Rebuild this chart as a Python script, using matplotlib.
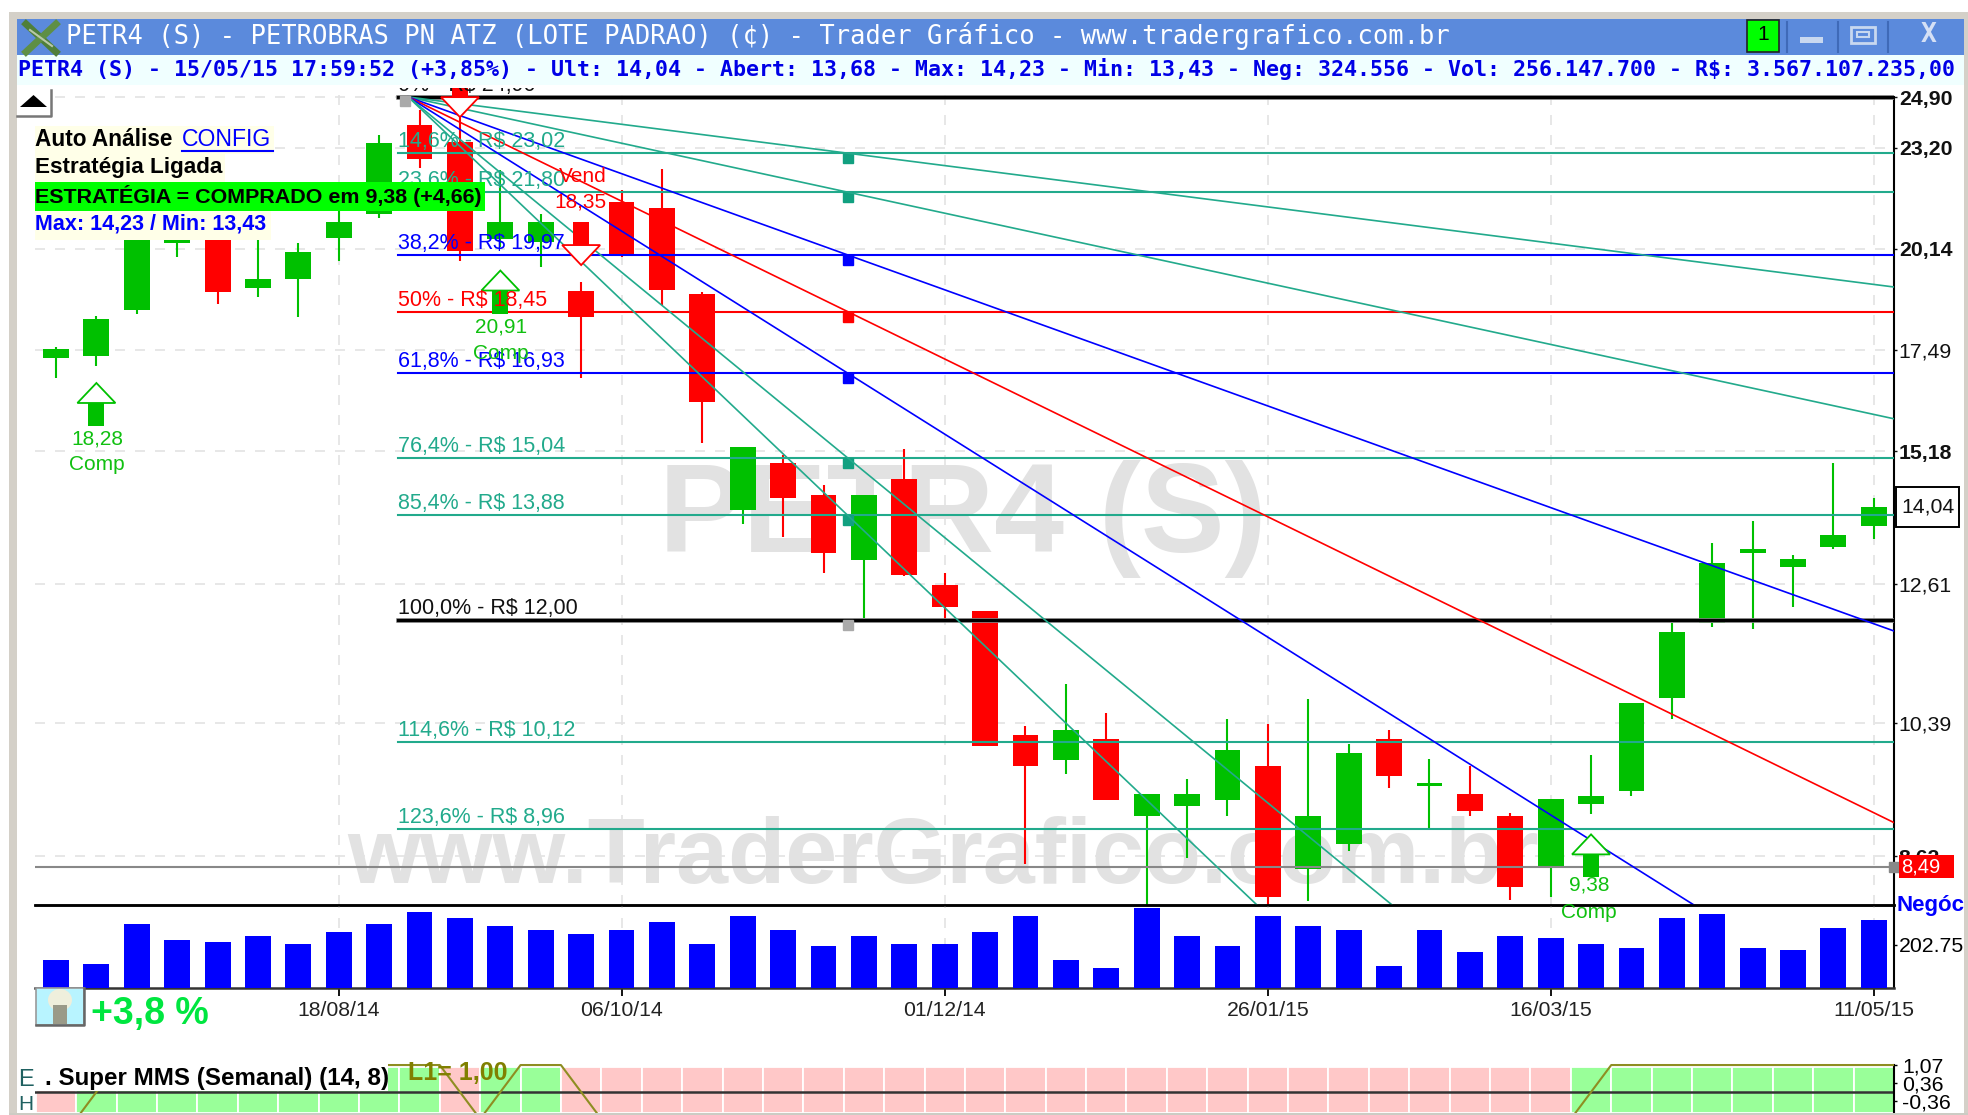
import numpy as np
import matplotlib
matplotlib.use("Agg")
import matplotlib.pyplot as plt
from matplotlib.patches import Rectangle, Polygon, Ellipse
from matplotlib.lines import Line2D
from matplotlib.ticker import NullLocator
from matplotlib.transforms import IdentityTransform, offset_copy

plt.rcParams["font.family"] = ["Liberation Sans", "DejaVu Sans"]

W, H = 1968, 1115

# weekly candles
opens = [17.30, 17.35, 18.48, 20.32, 20.38, 19.08, 19.30, 20.46, 21.15, 23.95, 23.39, 20.42, 20.33, 19.00, 21.50, 21.32,
         18.92, 13.99, 14.93, 14.28, 13.04, 14.60, 12.59, 12.14, 10.21, 9.86, 10.15, 9.12, 9.25, 9.33, 9.78,
         8.47, 8.77, 10.15, 9.51, 9.41, 9.12, 8.50, 9.27, 9.45, 10.76, 11.94, 13.17, 12.91, 13.28, 13.68]
highs = [17.55, 18.35, 20.44, 20.50, 20.40, 20.40, 20.30, 21.35, 23.61, 24.46, 24.80, 22.50, 21.15, 19.22, 21.87, 22.52,
         18.95, 15.27, 15.11, 14.48, 14.28, 15.23, 12.80, 12.14, 10.35, 10.97, 10.53, 9.40, 9.60, 10.44, 10.37,
         10.74, 10.09, 10.29, 9.88, 9.78, 9.16, 9.34, 9.93, 10.68, 11.94, 13.35, 13.77, 13.13, 14.94, 14.23]
lows = [16.82, 17.11, 18.40, 19.90, 18.66, 18.82, 18.30, 19.80, 21.02, 22.55, 19.80, 20.20, 19.63, 16.82, 19.90, 18.61,
        15.36, 13.72, 13.46, 12.80, 12.02, 12.76, 12.00, 10.06, 8.53, 9.67, 9.33, 8.06, 8.60, 9.12, 8.05,
        8.10, 8.69, 9.48, 8.96, 9.12, 8.11, 8.14, 9.15, 9.38, 10.44, 11.87, 11.84, 12.21, 13.24, 13.43]
closes = [17.50, 18.27, 20.38, 20.38, 18.97, 19.30, 20.04, 20.90, 23.35, 22.83, 20.07, 20.90, 20.90, 18.30, 19.93, 19.02,
          16.27, 15.27, 14.22, 13.17, 14.28, 12.78, 12.21, 10.06, 9.78, 10.29, 9.33, 9.40, 9.41, 10.00, 8.14,
          9.12, 9.96, 9.64, 9.55, 9.19, 8.26, 9.34, 9.38, 10.68, 11.80, 12.98, 13.24, 13.06, 13.50, 14.04]
volumes = [132, 113, 302, 226, 217, 245, 207, 264, 302, 358, 330, 292, 273, 255, 273, 311,
           207, 339, 273, 198, 245, 207, 207, 264, 339, 132, 94, 377, 245, 198, 339,
           292, 273, 104, 273, 170, 245, 236, 207, 189, 330, 349, 189, 179, 283, 321]
# 1 = green week, 0 = red week in the Super MMS strip
mms_state = [0] + [1] * 9 + [0] + [1] * 2 + [0] * 25 + [1] * 8

date_idx = [7, 14, 22, 30, 37, 45]
date_labels = ["18/08/14", "06/10/14", "01/12/14", "26/01/15", "16/03/15", "11/05/15"]
price_ticks = [24.90, 23.20, 20.14, 17.49, 15.18, 12.61, 10.39, 8.62]
price_labels = ["24,90", "23,20", "20,14", "17,49", "15,18", "12,61", "10,39", "8,62"]
bold_prices = ["24,90", "23,20", "20,14", "15,18", "8,62"]

fib_levels = [24.90, 23.02, 21.80, 19.97, 18.45, 16.93, 15.04, 13.88, 12.00, 10.12, 8.96]
fib_labels = ["0% - R$ 24,90", "14,6% - R$ 23,02", "23,6% - R$ 21,80", "38,2% - R$ 19,97", "50% - R$ 18,45",
              "61,8% - R$ 16,93", "76,4% - R$ 15,04", "85,4% - R$ 13,88", "100,0% - R$ 12,00",
              "114,6% - R$ 10,12", "123,6% - R$ 8,96"]
TEAL = "#22AA8C"
fib_colors = ["black", TEAL, TEAL, "#0000FF", "#FF0000", "#0000FF", TEAL, TEAL, "black", TEAL, TEAL]
fan_levels = [23.02, 21.80, 19.97, 18.45, 16.93, 15.04, 13.88]
fan_colors = [TEAL, TEAL, "#0000FF", "#FF0000", "#0000FF", TEAL, TEAL]
marker_levels = fan_levels + [12.00]
marker_colors = ["#11A080", "#11A080", "#0000FF", "#FF0000", "#0000FF", "#11A080", "#11A080", "#AAAAAA"]
fan_start_idx, fan_start_price, fan_mid_idx = 8.72, 24.90, 19.6
last_price = 8.49

GREEN = "#00C000"
RED = "#FF0000"
GRID = "#E3E3E3"

fig = plt.figure(figsize=(W / 100, H / 100), dpi=100, facecolor="white")


def add_panel(left, top, right, bottom):
    ax = fig.add_axes([left / W, 1 - bottom / H, (right - left) / W, (bottom - top) / H])
    ax.set_facecolor("none")
    ax.set_xlim(-0.52, 45.5)
    return ax


def box(x0, y0, x1, y1, **kw):
    kw.setdefault("linewidth", 0)
    r = Rectangle((x0 / W, 1 - y1 / H), (x1 - x0) / W, (y1 - y0) / H, transform=fig.transFigure, **kw)
    fig.add_artist(r)
    return r


def label(x, y, s, **kw):
    kw.setdefault("va", "center")
    return fig.text(x / W, 1 - y / H, s, **kw)


def fig_line(xs, ys, **kw):
    fig.add_artist(Line2D([x / W for x in xs], [1 - y / H for y in ys], transform=fig.transFigure, **kw))


# price panel
ax = add_panel(35, 88, 1894, 905)
ax.set_yscale("log")
ax.set_ylim(8.055, 25.215)
ax.yaxis.set_minor_locator(NullLocator())
ax.yaxis.tick_right()
ax.set_yticks(price_ticks)
ax.set_yticklabels(price_labels, fontsize=15.3)
ax.yaxis.set_minor_formatter(plt.NullFormatter())
ax.set_xticks(date_idx)
ax.tick_params(axis="x", length=0, labelbottom=False)
ax.tick_params(axis="y", length=2, width=1, pad=1.5, colors="#111111")
for t in ax.get_yticklabels():
    if t.get_text() in bold_prices:
        t.set_fontweight("bold")
ax.grid(True, color=GRID, linewidth=1.2, linestyle=(0, (6, 6)), zorder=0)
ax.set_axisbelow(True)
for s in ["top", "left"]:
    ax.spines[s].set_visible(False)
ax.spines["right"].set_bounds(8.055, 24.90)
ax.spines["right"].set_linewidth(1.5)
ax.spines["bottom"].set_linewidth(1.8)

ax.text(963 / W, 1 - 552 / H, "PETR4 (S)", transform=fig.transFigure, fontsize=90.5, fontweight="bold",
        color="#E2E2E2", ha="center", va="baseline", zorder=0.5)
ax.text(943 / W, 1 - 883 / H, "www.TraderGrafico.com.br", transform=fig.transFigure, fontsize=67.3,
        fontweight="bold", color="#E2E2E2", ha="center", va="baseline", zorder=0.5)

idx = np.arange(len(opens))
o, h, l, c = map(np.array, (opens, highs, lows, closes))
up = c >= o
colors = np.where(up, GREEN, RED)
ax.vlines(idx, l, h, colors=colors, linewidth=1.5, zorder=2)
ax.bar(idx, np.abs(c - o), bottom=np.minimum(o, c), width=0.64, color=colors, zorder=2.5, linewidth=0)

# fibonacci retracement levels and fan
xmax = ax.get_xlim()[1]
for level, col, txt in zip(fib_levels, fib_colors, fib_labels):
    if col == "black":
        ax.plot([8.47, xmax], [level, level], color="#999999", linewidth=3.4, zorder=3)
        ax.plot([8.47, xmax], [level, level], color="black", linewidth=2.4, zorder=3.1)
    else:
        ax.plot([8.47, xmax], [level, level], color=col, linewidth=1.5, zorder=3)
    ax.annotate(txt, xy=(8.47, level), xytext=(0, 4.3), textcoords="offset points", fontsize=15.5,
                color="#111111" if col == "black" else col, va="baseline", ha="left", zorder=6,
                annotation_clip=False, clip_on=True)

for level, col in zip(fan_levels, fan_colors):
    ratio = (xmax - fan_start_idx) / (fan_mid_idx - fan_start_idx)
    end = fan_start_price * (level / fan_start_price) ** ratio
    ax.plot([fan_start_idx, xmax], [fan_start_price, end], color=col, linewidth=1.2, zorder=4)

below = offset_copy(ax.transData, fig=fig, y=-5, units="dots")
for level, col in zip(marker_levels, marker_colors):
    ax.plot([fan_mid_idx], [level], marker="s", markersize=7.5, color=col, linewidth=0, transform=below,
            zorder=3.5, clip_on=True)
ax.plot([fan_start_idx - 0.08], [24.75], marker="s", markersize=7, color="#AAAAAA", zorder=5)

ax.plot(ax.get_xlim(), [last_price, last_price], color="#888888", linewidth=1.5, zorder=3)
ax.plot([xmax], [last_price], marker="s", markersize=7, color="#888888", clip_on=False, zorder=5)


def signal_arrow(i, price, color, direction):
    # direction 1 = buy arrow under the price, -1 = sell arrow above it
    xd, yd = ax.transData.transform((i, price))
    s = direction
    tri = [(xd, yd), (xd - 19, yd - s * 20), (xd + 19, yd - s * 20)]
    ax.add_patch(Polygon(tri, closed=True, facecolor="white", edgecolor=color, linewidth=1.3,
                         transform=IdentityTransform(), zorder=5))
    y0 = yd - s * 20
    ax.add_patch(Polygon([(xd - 8, y0), (xd + 8, y0), (xd + 8, y0 - s * 23), (xd - 8, y0 - s * 23)], closed=True,
                         facecolor=color, linewidth=0, transform=IdentityTransform(), zorder=5))


signal_arrow(1, 16.70, GREEN, 1)
signal_arrow(11, 19.54, GREEN, 1)
signal_arrow(38, 8.89, GREEN, 1)
signal_arrow(10, 24.21, RED, -1)
signal_arrow(13, 19.69, RED, -1)

for x, y, s, col in [(97, 439, "18,28", "#10C010"), (97, 464, "Comp", "#10C010"),
                     (501, 327, "20,91", "#10C010"), (501, 353, "Comp", "#10C010"),
                     (1589, 885, "9,38", "#10C010"), (1589, 912, "Comp", "#10C010"),
                     (583, 177, "Vend", RED), (580, 202, "18,35", RED)]:
    label(x, y, s, color=col, fontsize=15, ha="center")

# volume panel
vol = add_panel(35, 905, 1894, 988)
vol.bar(idx, volumes, width=0.64, color="#0000FF", linewidth=0, zorder=3)
vol.set_ylim(0, 391)
vol.yaxis.tick_right()
vol.set_yticks([202.75])
vol.set_yticklabels(["202.75"], fontsize=15.3)
vol.set_xticks(date_idx)
vol.set_xticklabels(date_labels, fontsize=15.3, color="#222222")
vol.tick_params(axis="x", length=6, width=1.3, pad=3)
vol.tick_params(axis="y", length=2, width=1, pad=1.5)
vol.grid(True, axis="x", color=GRID, linewidth=1.2, linestyle=(0, (6, 6)), zorder=0)
vol.set_axisbelow(True)
vol.spines["left"].set_visible(False)
vol.spines["top"].set_linewidth(1.8)
vol.spines["bottom"].set_linewidth(1.8)
vol.spines["bottom"].set_color("#333333")
vol.spines["right"].set_linewidth(1.5)

# Super MMS strip
mms = add_panel(35, 1062, 1894, 1113)
mms.set_ylim(-0.83, 1.19)
band_colors = ["#99FF99" if s else "#FFC8C8" for s in mms_state]
mms.bar(idx, [1.83] * len(idx), bottom=-0.83, width=1.0, color=band_colors, edgecolor="white", linewidth=1.3, zorder=1)
mms.axhline(0, color="#333333", linewidth=1.8, zorder=2)
line_x = idx + 0.5
line_y = [1.07 if s else -1.07 for s in mms_state]
mms.plot(line_x, line_y, color="#8E8E22", linewidth=1.5, zorder=3)
mms.yaxis.tick_right()
mms.set_yticks([1.07, 0.36, -0.36])
mms.set_yticklabels(["1,07", "0,36", "-0,36"], fontsize=15.3)
mms.tick_params(axis="y", length=2, width=1, pad=4)
mms.set_xticks([])
for s in ["top", "left", "bottom"]:
    mms.spines[s].set_visible(False)
mms.spines["right"].set_linewidth(1.5)
mms.spines["right"].set_bounds(-0.83, 1.07)

# window frame, title and info bars
box(9, 12, 1968, 19, facecolor="#D4D0C8", zorder=-1)
box(9, 12, 17, 1115, facecolor="#D4D0C8", zorder=-1)
box(1964, 12, 1968, 1115, facecolor="#D4D0C8", zorder=-1)
box(9, 1113, 1968, 1115, facecolor="#CCCCC4", zorder=2)
box(17, 19, 1964, 55, facecolor="#5B8ADC")
box(17, 55, 1964, 85, facecolor="#F0FFFF")
label(66, 36, "PETR4 (S) - PETROBRAS PN ATZ (LOTE PADRAO) (¢) - Trader Gráfico - www.tradergrafico.com.br",
      family="DejaVu Sans Mono", fontsize=18.4, color="white")
label(18, 69, "PETR4 (S) - 15/05/15 17:59:52 (+3,85%) - Ult: 14,04 - Abert: 13,68 - Max: 14,23 - Min: 13,43 - "
              "Neg: 324.556 - Vol: 256.147.700 - R$: 3.567.107.235,00",
      family="DejaVu Sans Mono", fontweight="bold", fontsize=15.6, color="#0000E6")

fig_line([26, 56], [24, 52], color="#4F7F3A", linewidth=5)
fig_line([26, 56], [52, 24], color="#5E8F45", linewidth=5)
fig_line([30, 52], [30, 46], color="#B8C8A8", linewidth=1.5)

box(1747, 20, 1779, 52, facecolor="#00FF00", edgecolor="#222222", linewidth=1.2)
label(1763, 35, "1", fontsize=15, ha="center", color="black")
for x in [1787, 1838, 1888]:
    fig_line([x, x], [22, 52], color="#3F6AB8", linewidth=1.5)
box(1800, 37, 1823, 43, facecolor="#C8D8F0")
box(1851, 27, 1875, 43, facecolor="none", edgecolor="#C8D8F0", linewidth=2)
box(1857, 32, 1869, 37, facecolor="none", edgecolor="#C8D8F0", linewidth=1.5)
label(1929, 35, "X", fontsize=19, ha="center", family="DejaVu Sans Mono", color="#D5E0F5", fontweight="bold")

# collapse button
box(17, 90, 51, 117, facecolor="white")
fig_line([17, 51, 51], [116, 116, 90], color="#777777", linewidth=1.8)
fig.add_artist(Polygon([(20 / W, 1 - 107 / H), (47 / W, 1 - 107 / H), (33.5 / W, 1 - 95 / H)], closed=True,
                       facecolor="black", transform=fig.transFigure))

# strategy box
box(35, 126, 274, 154, facecolor="#FFFFE8")
box(35, 154, 225, 182, facecolor="#FFFFE8")
box(35, 182, 485, 211, facecolor="#00FF00")
box(35, 211, 271, 240, facecolor="#FFFFE8")
label(35, 139, "Auto Análise", fontsize=16.3, fontweight="bold", color="black")
label(182, 139, "CONFIG", fontsize=16.6, color="#0000FF")
fig_line([182, 273], [150.5, 150.5], color="#0000FF", linewidth=1.5)
label(35, 168, "Estratégia Ligada", fontsize=16.2, fontweight="bold", color="black")
label(35, 196, "ESTRATÉGIA = COMPRADO em 9,38 (+4,66)", fontsize=15.45, fontweight="bold", color="black")
label(35, 224, "Max: 14,23 / Min: 13,43", fontsize=15.5, fontweight="bold", color="#0000FF")

# price axis boxes
box(1896, 487, 1959, 527, facecolor="white", edgecolor="black", linewidth=1.4)
label(1901, 507, "14,04", fontsize=15.3, color="#111111")
box(1899, 855, 1954, 878, facecolor="#FF0000")
label(1901, 867, "8,49", fontsize=14.5, color="white")
label(1897, 905, "Negóc", fontsize=16, fontweight="bold", color="#0000FF")

# lightbulb icon and variation
box(36, 988, 84, 1025, facecolor="#B8F4FF", edgecolor="#999999", linewidth=1.2)
fig_line([36, 84, 84], [1025, 1025, 988], color="#666666", linewidth=1.8)
fig.add_artist(Ellipse((60 / W, 1 - 1000 / H), 24 / W, 22 / H, facecolor="#EFEFDC", transform=fig.transFigure))
box(53, 1005, 67, 1024, facecolor="#9A9A88")
label(91, 1014, "+3,8 %", fontsize=27, fontweight="bold", color="#00E640")

# indicator label over the strip
box(30, 1062, 388, 1091, facecolor="white")
label(45, 1078, ". Super MMS (Semanal) (14, 8)", fontsize=17.4, fontweight="bold", color="black")
label(408, 1073, "L1= 1,00", fontsize=18, fontweight="bold", color="#808000")
label(18, 1080, "E", fontsize=17, color="#1F6060")
label(18, 1104, "H", fontsize=15, color="#1F6060")

fig.savefig("out.png", dpi=100)
